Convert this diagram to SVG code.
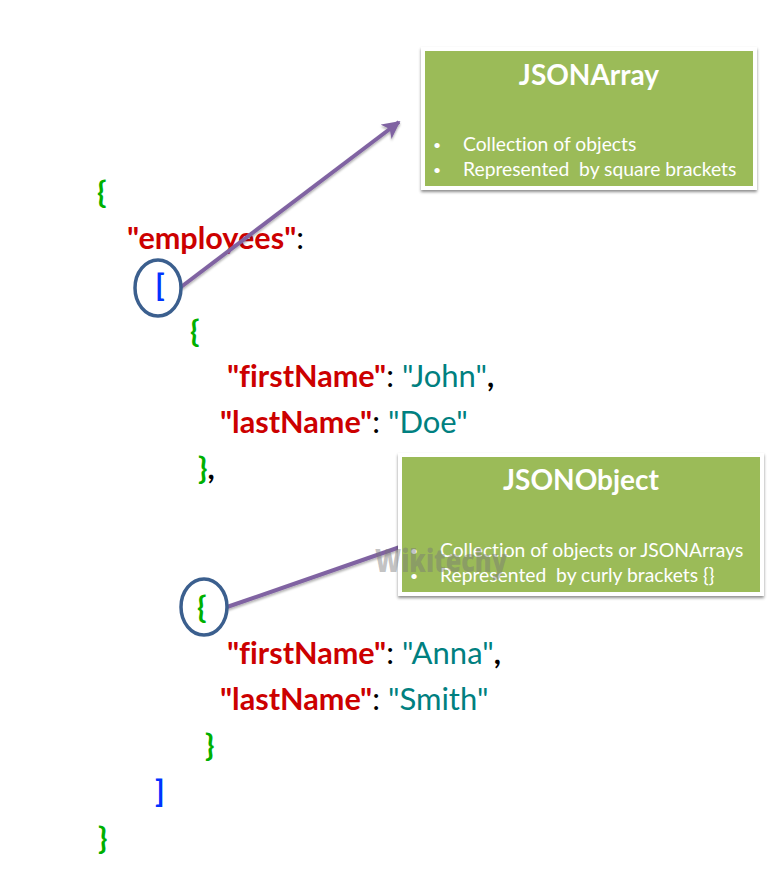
<svg xmlns="http://www.w3.org/2000/svg" width="784" height="886" viewBox="0 0 784 886">
<defs>
<style>
text{font-family:Lato,"Open Sans",sans-serif;font-variant-ligatures:none;white-space:pre}
.k{font-size:30.6px;font-weight:700;fill:#cc0000}
.s{font-size:31px;fill:#008080}
.p{font-size:31px;fill:#000}
.c2{font-size:31px;font-weight:700;fill:#000}
.g{font-size:31px;font-weight:700;fill:#00b000}
.b{font-size:31px;font-weight:700;fill:#0033ff}
.box{fill:#9bbb59;stroke:#fff;stroke-width:4}
.t{font-size:28px;font-weight:700;fill:#fff;text-anchor:middle}
.l{font-size:19.3px;fill:#fff}
.d{font-size:14px;fill:#fff}
.ring{fill:none;stroke:#3b5f8e;stroke-width:3.5}
.c{fill:none;stroke:#8064a2;stroke-width:4;filter:url(#ls)}
</style>
<filter id="sh" x="-5%" y="-10%" width="110%" height="125%"><feDropShadow dx="0" dy="2" stdDeviation="1.5" flood-color="#000" flood-opacity="0.45"/></filter>
<filter id="ls" x="-5%" y="-5%" width="110%" height="115%"><feDropShadow dx="0" dy="2" stdDeviation="1" flood-color="#000" flood-opacity="0.3"/></filter>
<marker id="arr" viewBox="0 0 10 10" refX="9" refY="5" markerWidth="4.5" markerHeight="4.5" orient="auto"><path d="M0 0L10 5L0 10L2.5 5Z" fill="#8064a2"/></marker>
</defs>
<rect width="784" height="886" fill="#fff"/>
<g id="code">
<text class="g" x="97" y="203">{</text>
<text x="127" y="249"><tspan class="k">"employees"</tspan><tspan class="p">:</tspan></text>
<text class="b" x="155" y="296">[</text>
<text class="g" x="190" y="342">{</text>
<text x="227" y="387"><tspan class="k">"firstName"</tspan><tspan class="p">: </tspan><tspan class="s">"John"</tspan><tspan class="c2">,</tspan></text>
<text x="220" y="433"><tspan class="k">"lastName"</tspan><tspan class="p">: </tspan><tspan class="s">"Doe"</tspan></text>
<text x="198" y="479"><tspan class="g">}</tspan><tspan class="c2">,</tspan></text>
<text class="g" x="197" y="618">{</text>
<text x="227" y="664"><tspan class="k">"firstName"</tspan><tspan class="p">: </tspan><tspan class="s">"Anna"</tspan><tspan class="c2">,</tspan></text>
<text x="220" y="710"><tspan class="k">"lastName"</tspan><tspan class="p">: </tspan><tspan class="s">"Smith"</tspan></text>
<text class="g" x="205" y="756">}</text>
<text class="b" x="155" y="802">]</text>
<text class="g" x="98" y="849">}</text>
</g>
<g id="connectors">
<path class="c" d="M181 287L399 122" marker-end="url(#arr)"/>
<path class="c" d="M227 607L400 547"/>
</g>
<g id="ring-array"><ellipse class="ring" cx="158" cy="288" rx="23" ry="28"/></g>
<g id="ring-object"><ellipse class="ring" cx="204" cy="607" rx="23" ry="28"/></g>
<g id="jsonarray">
<rect class="box" x="423" y="49" width="332" height="139" filter="url(#sh)"/>
<text class="t" x="589" y="85">JSONArray</text>
<text class="d" x="433" y="150">•</text><text class="l" x="463" y="151">Collection of objects</text>
<text class="d" x="433" y="175">•</text><text class="l" x="463" y="176">Represented  by square brackets</text>
</g>
<g id="jsonobject">
<rect class="box" x="400" y="455" width="362" height="139" filter="url(#sh)"/>
<text class="t" x="581" y="490">JSONObject</text>
<text class="d" x="410" y="556">•</text><text class="l" x="440" y="557">Collection of objects or JSONArrays</text>
<text class="d" x="410" y="581">•</text><text class="l" x="440" y="582">Represented  by curly brackets {}</text>
</g>
<text id="watermark" x="375" y="572" font-size="31" font-weight="900" fill="#777" fill-opacity="0.45" style="font-family:'Open Sans',sans-serif" textLength="132" lengthAdjust="spacingAndGlyphs">Wikitechy</text>
</svg>
